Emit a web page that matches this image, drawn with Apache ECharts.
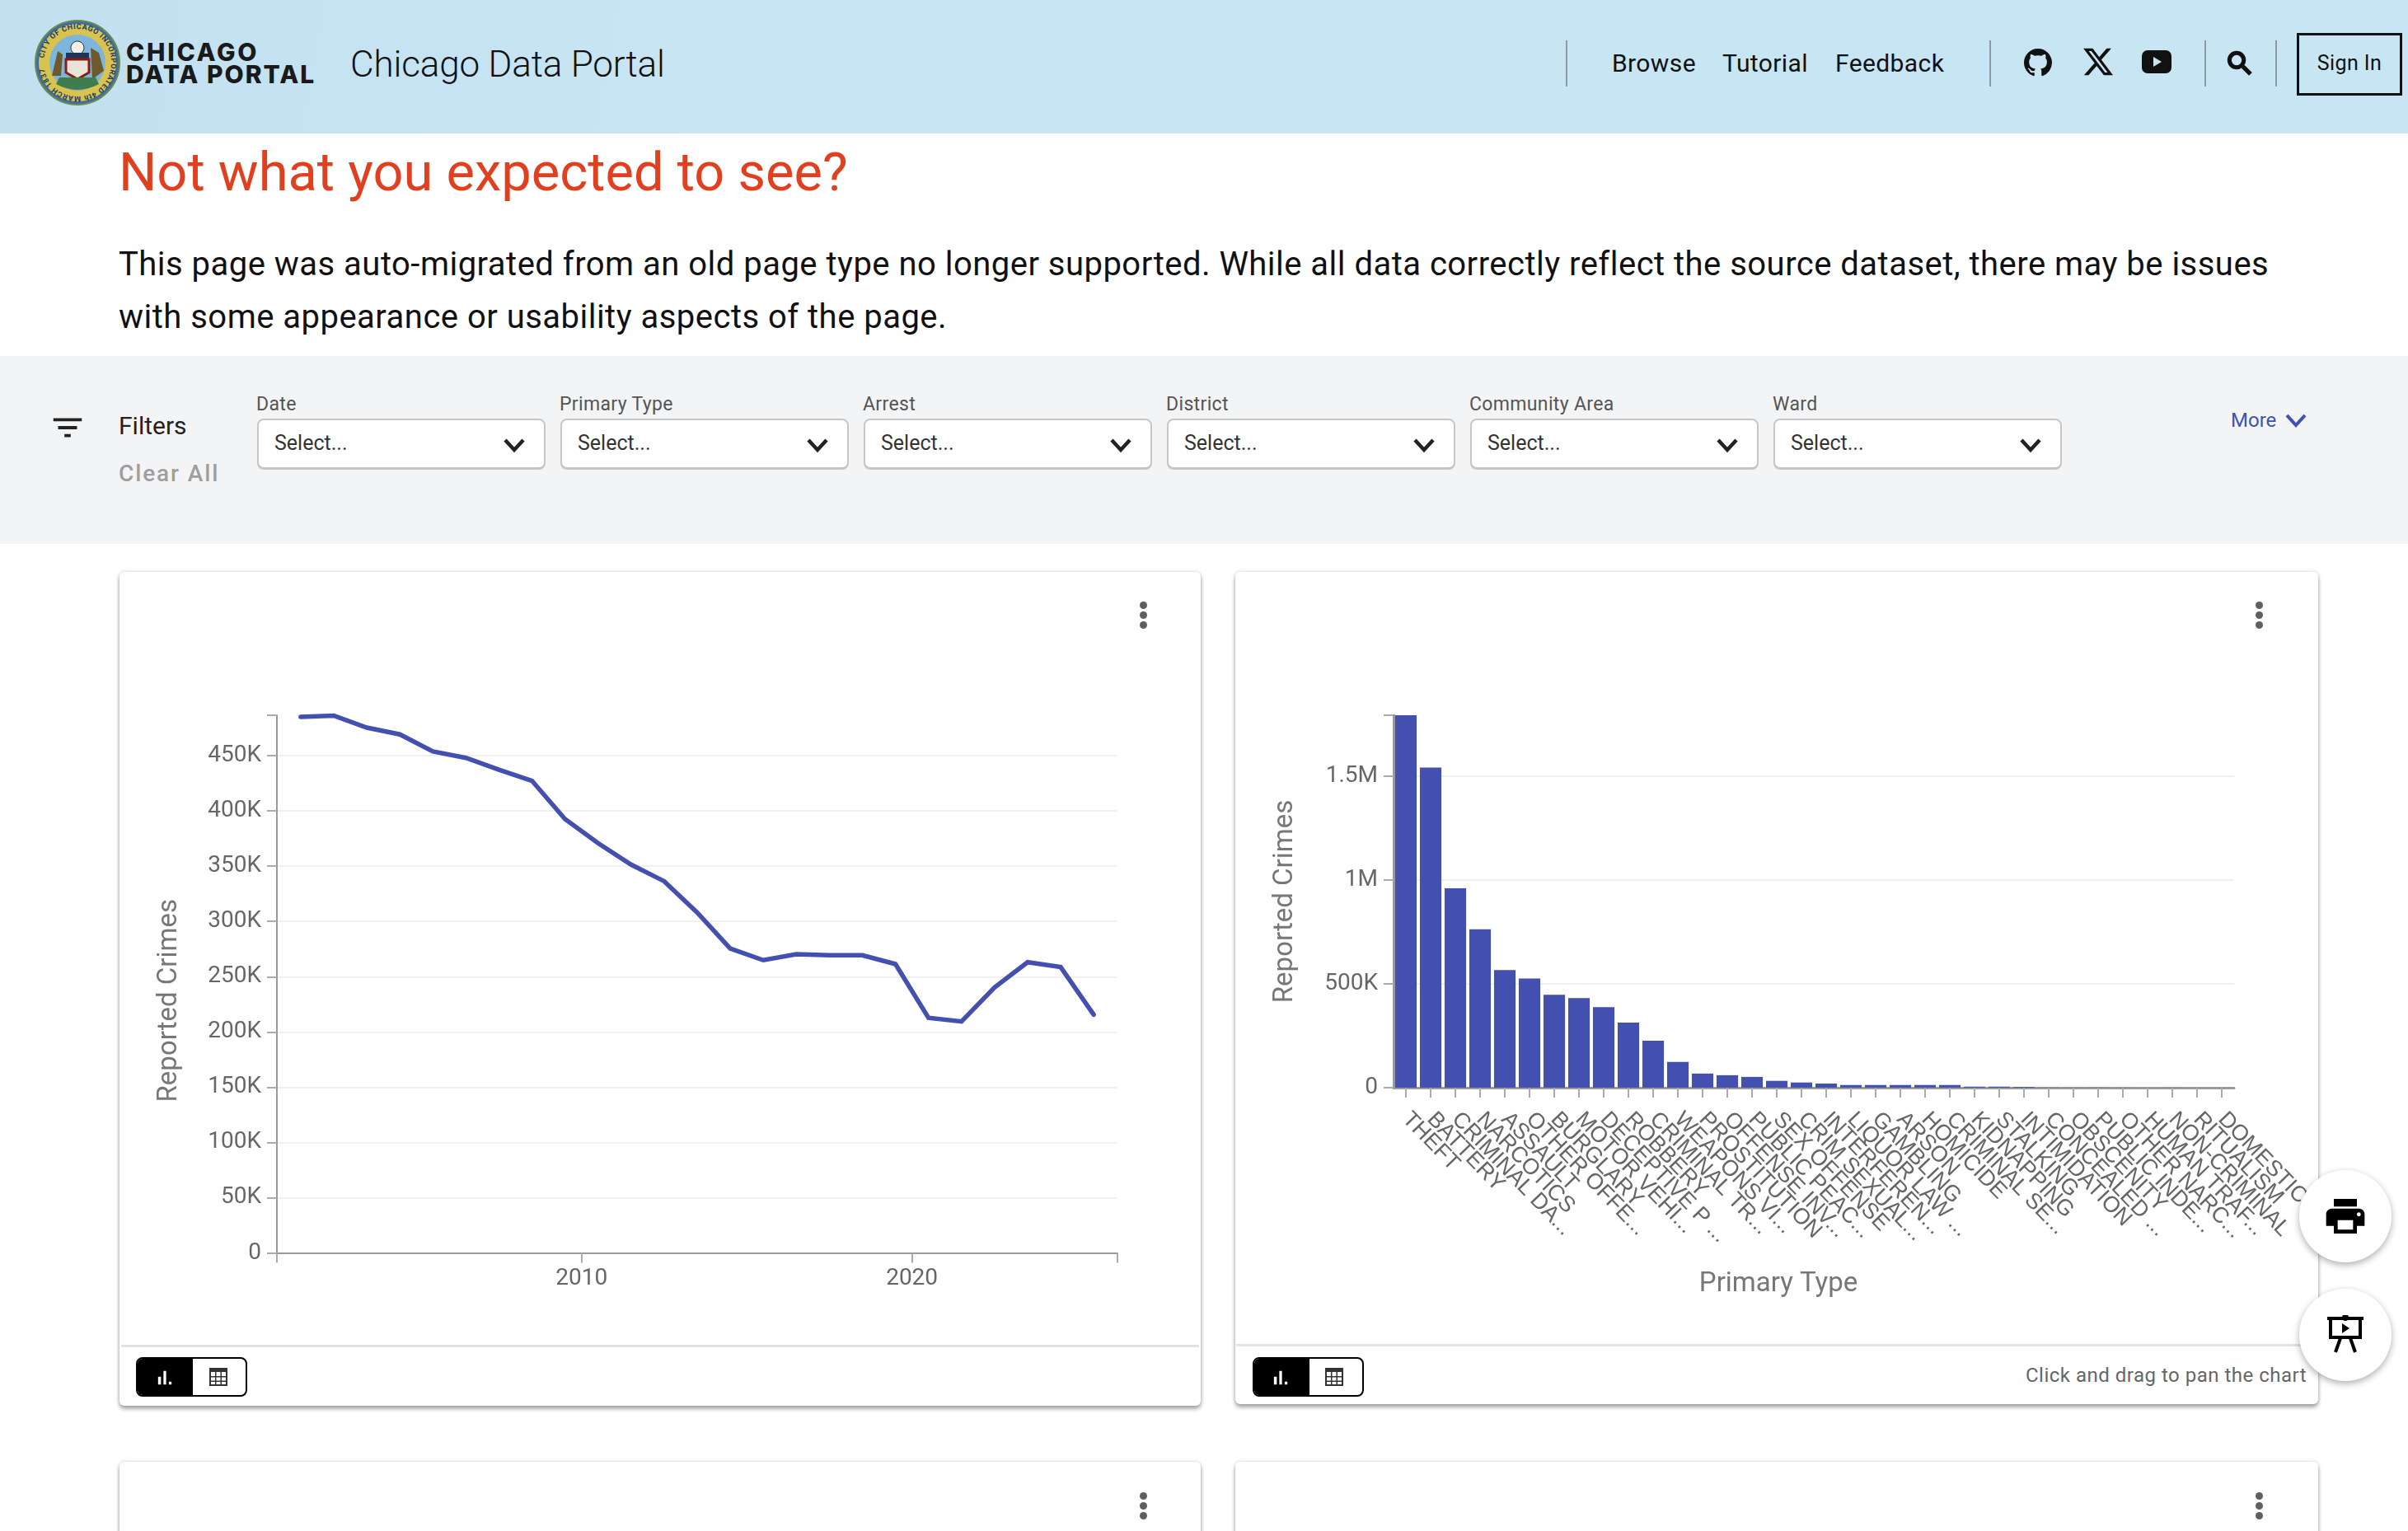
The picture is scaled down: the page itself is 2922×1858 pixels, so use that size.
<!DOCTYPE html>
<html>
<head>
<meta charset="utf-8">
<title>Chicago Data Portal</title>
<script src="https://cdn.jsdelivr.net/npm/echarts@6/dist/echarts.min.js"></script>
<style>
html,body{margin:0;padding:0;width:2922px;height:1858px;overflow:hidden;background:#fff;font-family:Roboto,sans-serif;color:#111}
.abs,.t,.sel,.lab,.card,.fab,.dots,.divider,svg.abs{position:absolute}
.t{white-space:nowrap;line-height:1}
#head{position:absolute;left:0;top:0;width:2922px;height:162px;background:linear-gradient(100deg,#c2e0ef 0,#c7e5f3 30%,#c7e5f3 100%)}
#bar{position:absolute;left:0;top:432px;width:2922px;height:228px;background:#f3f4f6}
.divider{width:2px;top:49px;height:56px;background:#8f9aa0}
.sel{width:346px;height:57px;top:508px;background:#fff;border:2px solid #c6c6c6;border-bottom-width:3px;border-radius:8px}
.card{background:#fff;border-radius:6px;box-shadow:0 4px 5px rgba(0,0,0,.32),0 0 5px rgba(0,0,0,.18)}
.fab{width:112px;height:112px;border-radius:50%;background:#fff;box-shadow:0 3px 8px rgba(0,0,0,.32);left:2790px}
.dots i{display:block;width:9px;height:9px;border-radius:50%;background:#5f5f5f;margin-bottom:3px}
.rule{position:absolute;height:3px;background:#e2e2e2}
.toggle{position:absolute;width:131px;height:44px;top:1647px;border:2px solid #000;border-radius:8px;overflow:hidden;background:#fff}
.toggle b{position:absolute;left:0;top:0;width:67px;height:44px;background:#000}
</style>
</head>
<body>
<div id="head"></div>
<svg class="abs" style="left:40px;top:22px" width="108" height="108" viewBox="0 0 108 108">
  <defs><path id="ring" d="M54 54m-41 0a41 41 0 1 1 82 0a41 41 0 1 1 -82 0"/></defs>
  <circle cx="54" cy="54" r="51" fill="#3f6f9f" stroke="#6d8b4c" stroke-width="2"/>
  <circle cx="54" cy="54" r="47" fill="#d9c24d"/>
  <circle cx="54" cy="54" r="34" fill="#7db6dc"/>
  <text font-family="Roboto" font-size="9" font-weight="700" fill="#20406a"><textPath href="#ring" startOffset="2%" textLength="245">CITY OF CHICAGO INCORPORATED 4th MARCH 1837</textPath></text>
  <path d="M54 28a8 8 0 1 1 -.1 0z" fill="#f3efe6" stroke="#333"/>
  <rect x="40" y="42" width="28" height="8" fill="#1d3557"/>
  <path d="M40 50h28v16l-14 8-14-8z" fill="#e9e4d8" stroke="#8c1c13" stroke-width="3"/>
  <path d="M23 70l7-30 6 4-2 26zM70 36l10 6 6 22-14 10z" fill="#6d5a2c"/>
  <path d="M28 80q26 14 52 0l-4-8H32z" fill="#3f7d4c"/>
</svg>
<div class="t" style="left:153px;top:48px;font:800 30px/30px Inter,sans-serif;letter-spacing:2.7px;color:#1a1a1a">CHICAGO</div>
<div class="t" style="left:153px;top:75px;font:800 30px/30px Inter,sans-serif;letter-spacing:2px;color:#1a1a1a">DATA PORTAL</div>
<div class="t" style="left:425px;top:56px;font-size:44px;font-weight:300;letter-spacing:-.15px">Chicago Data Portal</div>
<div class="divider" style="left:1900px"></div>
<div class="t" style="left:1956px;top:62px;font-size:30px;letter-spacing:.4px">Browse</div>
<div class="t" style="left:2090px;top:62px;font-size:30px;letter-spacing:.4px">Tutorial</div>
<div class="t" style="left:2227px;top:62px;font-size:30px;letter-spacing:.4px">Feedback</div>
<div class="divider" style="left:2414px"></div>
<svg class="abs" style="left:2456px;top:59px" width="34" height="34" viewBox="0 0 16 16"><path fill="#111" d="M8 0C3.58 0 0 3.58 0 8c0 3.54 2.29 6.53 5.47 7.59.4.07.55-.17.55-.38 0-.19-.01-.82-.01-1.49-2.01.37-2.53-.49-2.69-.94-.09-.23-.48-.94-.82-1.13-.28-.15-.68-.52-.01-.53.63-.01 1.08.58 1.23.82.72 1.21 1.87.87 2.33.66.07-.52.28-.87.51-1.07-1.78-.2-3.64-.89-3.64-3.95 0-.87.31-1.59.82-2.15-.08-.2-.36-1.02.08-2.12 0 0 .67-.21 2.2.82.64-.18 1.32-.27 2-.27.68 0 1.36.09 2 .27 1.53-1.04 2.2-.82 2.2-.82.44 1.1.16 1.92.08 2.12.51.56.82 1.27.82 2.15 0 3.07-1.87 3.75-3.65 3.95.29.25.54.73.54 1.48 0 1.07-.01 1.93-.01 2.2 0 .21.15.46.55.38A8.013 8.013 0 0016 8c0-4.42-3.58-8-8-8z"/></svg>
<svg class="abs" style="left:2526px;top:55px" width="40" height="40" viewBox="0 0 24 24"><path fill="#111" d="M18.244 2.25h3.308l-7.227 8.26 8.502 11.24H16.17l-5.214-6.817L4.99 21.75H1.68l7.73-8.835L1.254 2.25H8.08l4.713 6.231zm-1.161 17.52h1.833L7.084 4.126H5.117z"/></svg>
<svg class="abs" style="left:2599px;top:61px" width="36" height="28" viewBox="0 0 36 28"><rect width="36" height="28" rx="7" fill="#111"/><path d="M14 8l10 6-10 6z" fill="#c7e5f3"/></svg>
<div class="divider" style="left:2675px"></div>
<svg class="abs" style="left:2699px;top:58px" width="38" height="38" viewBox="0 0 24 24"><path fill="#111" stroke="#111" stroke-width="1.2" d="M15.5 14h-.79l-.28-.27C15.41 12.59 16 11.11 16 9.5 16 5.91 13.09 3 9.5 3S3 5.91 3 9.5 5.91 16 9.5 16c1.61 0 3.09-.59 4.23-1.57l.27.28v.79l5 4.99L20.49 19l-4.99-5zm-6 0C7.01 14 5 11.99 5 9.5S7.01 5 9.5 5 14 7.01 14 9.5 11.99 14 9.5 14z"/></svg>
<div class="divider" style="left:2761px"></div>
<div class="abs" style="left:2787px;top:40px;width:122px;height:70px;border:3px solid #111"></div>
<div class="t" style="left:2787px;top:64px;width:128px;text-align:center;font-size:25px;letter-spacing:.4px">Sign In</div>

<div class="t" style="left:144px;top:177px;font-size:65px;color:#e0401f">Not what you expected to see?</div>
<div class="t" style="left:144px;top:301px;font-size:40px;letter-spacing:.48px">This page was auto-migrated from an old page type no longer supported. While all data correctly reflect the source dataset, there may be issues</div>
<div class="t" style="left:144px;top:365px;font-size:40px;letter-spacing:.48px">with some appearance or usability aspects of the page.</div>

<div id="bar"></div>
<svg class="abs" style="left:59px;top:496px" width="46" height="46" viewBox="0 0 24 24"><path fill="#222" d="M10 18h4v-2h-4v2zM3 6v2h18V6H3zm3 7h12v-2H6v2z"/></svg>
<div class="t" style="left:144px;top:502px;font-size:30px;color:#222">Filters</div>
<div class="t" style="left:144px;top:561px;font-size:28px;font-weight:500;letter-spacing:1.9px;color:#9e9e9e">Clear All</div>
<div id="filters"></div>
<div class="t" style="left:2707px;top:498px;font-size:24px;color:#3f51b5">More</div>
<svg class="abs" style="left:2772px;top:500px" width="28" height="20" viewBox="0 0 28 20"><path d="M3 4l11 12L25 4" fill="none" stroke="#3f51b5" stroke-width="4"/></svg>

<div class="card" style="left:145px;top:694px;width:1312px;height:1012px"></div>
<div class="card" style="left:1499px;top:694px;width:1314px;height:1010px"></div>
<div class="card" style="left:145px;top:1774px;width:1312px;height:200px"></div>
<div class="card" style="left:1499px;top:1774px;width:1314px;height:200px"></div>
<div class="dots abs" style="left:1383px;top:730px"><i></i><i></i><i></i></div>
<div class="dots abs" style="left:2737px;top:730px"><i></i><i></i><i></i></div>
<div class="dots abs" style="left:1383px;top:1811px"><i></i><i></i><i></i></div>
<div class="dots abs" style="left:2737px;top:1811px"><i></i><i></i><i></i></div>

<div id="lineChart" class="abs" style="left:145px;top:694px;width:1312px;height:938px"></div>
<div id="barChart" class="abs" style="left:1498px;top:694px;width:1315px;height:938px"></div>

<div class="rule" style="left:147px;top:1632px;width:1308px"></div>
<div class="rule" style="left:1500px;top:1631px;width:1311px"></div>
<div class="toggle" style="left:165px"><b></b></div>
<div class="toggle" style="left:1520px"><b></b></div>
<svg class="abs" style="left:186px;top:1658px" width="28" height="28" viewBox="0 0 24 24"><path fill="#fff" d="M5 11h3v8H5zM10.6 5h2.8v14h-2.8zm5.6 11H19v3h-2.8z"/></svg>
<svg class="abs" style="left:1540px;top:1658px" width="28" height="28" viewBox="0 0 24 24"><path fill="#fff" d="M5 11h3v8H5zM10.6 5h2.8v14h-2.8zm5.6 11H19v3h-2.8z"/></svg>
<svg class="abs" style="left:253px;top:1659px" width="24" height="24" viewBox="0 0 24 24"><path fill="#333" d="M1 1h22v22H1z"/><path fill="#fff" d="M3 6h5v5H3zM9.5 6h5v5h-5zM16 6h5v5h-5zM3 12.5h5v4H3zM9.5 12.5h5v4h-5zM16 12.5h5v4h-5zM3 18h5v3H3zM9.5 18h5v3h-5zM16 18h5v3h-5z"/></svg>
<svg class="abs" style="left:1607px;top:1659px" width="24" height="24" viewBox="0 0 24 24"><path fill="#333" d="M1 1h22v22H1z"/><path fill="#fff" d="M3 6h5v5H3zM9.5 6h5v5h-5zM16 6h5v5h-5zM3 12.5h5v4H3zM9.5 12.5h5v4h-5zM16 12.5h5v4h-5zM3 18h5v3H3zM9.5 18h5v3h-5zM16 18h5v3h-5z"/></svg>
<div class="t" style="left:2458px;top:1657px;font-size:24px;letter-spacing:.5px;color:#666">Click and drag to pan the chart</div>

<div class="fab" style="top:1420px"></div>
<div class="fab" style="top:1564px"></div>
<svg class="abs" style="left:2818px;top:1448px" width="56" height="56" viewBox="0 0 24 24"><path fill="#000" d="M19 8H5c-1.66 0-3 1.34-3 3v6h4v4h12v-4h4v-6c0-1.66-1.34-3-3-3zm-3 11H8v-5h8v5zm3-7c-.55 0-1-.45-1-1s.45-1 1-1 1 .45 1 1-.45 1-1 1zm-1-9H6v4h12V3z"/></svg>
<svg class="abs" style="left:2824px;top:1596px" width="44" height="46" viewBox="0 0 44 46"><path d="M0 4h44M4 5v22h36V5M16 28l-6 17M28 28l6 17" fill="none" stroke="#000" stroke-width="4"/><circle cx="22" cy="3" r="4" fill="#000"/><path d="M18 10l9 6-9 6z" fill="#000"/></svg>

<script>
var filterNames = ["Date", "Primary Type", "Arrest", "District", "Community Area", "Ward"];

var years = [2001, 2002, 2003, 2004, 2005, 2006, 2007, 2008, 2009, 2010, 2011, 2012, 2013,
    2014, 2015, 2016, 2017, 2018, 2019, 2020, 2021, 2022, 2023, 2024, 2025];
var yearlyCrimes = [485200, 486300, 475400, 469300, 453900, 448000, 437300, 427300, 392600,
    370800, 351400, 336400, 308000, 275500, 264900, 270300, 269400, 269400, 261400, 212800,
    209400, 240300, 263100, 258700, 215600];
var yearTicks = [2000.78, 2010, 2020, 2026.22];
var yearLabels = [2010, 2020];
var lineValueLabels = [0, 50000, 100000, 150000, 200000, 250000, 300000, 350000, 400000, 450000];
var lineValueTicks = [0, 50000, 100000, 150000, 200000, 250000, 300000, 350000, 400000, 450000, 486600];

var primaryTypes = ["THEFT", "BATTERY", "CRIMINAL DA...", "NARCOTICS", "ASSAULT", "OTHER OFFE...",
    "BURGLARY", "MOTOR VEHI...", "DECEPTIVE P ...", "ROBBERY", "CRIMINAL TR...", "WEAPONS VI...",
    "PROSTITUTION", "OFFENSE INV...", "PUBLIC PEAC...", "SEX OFFENSE", "CRIM SEXUAL...",
    "INTERFEREN...", "LIQUOR LAW ...", "GAMBLING", "ARSON", "HOMICIDE", "CRIMINAL SE...",
    "KIDNAPPING", "STALKING", "INTIMIDATION", "CONCEALED ...", "OBSCENITY", "PUBLIC INDE...",
    "OTHER NARC...", "HUMAN TRAF...", "NON-CRIMINAL", "RITUALISM", "DOMESTIC V..."];
var typeCrimes = [1793000, 1541000, 960000, 763000, 566000, 526000, 447000, 431000, 388000,
    313000, 226000, 124000, 68000, 60000, 52000, 33000, 25000, 20000, 13000, 13000, 13000,
    13000, 13000, 5000, 5000, 4000, 900, 700, 800, 200, 100, 200, 30, 10];
var barValueLabels = [0, 500000, 1000000, 1500000];
var barValueTicks = [0, 500000, 1000000, 1500000, 1793000];

var html = "";
for (var i = 0; i < filterNames.length; i++) {
    var x = 312 + i * 368;
    html += '<div class="t lab" style="left:' + (x - 1) + 'px;top:479px;font-size:23px;letter-spacing:.35px;color:#555">' + filterNames[i] + '</div>';
    html += '<div class="sel" style="left:' + x + 'px"></div>';
    html += '<div class="t" style="left:' + (x + 21) + 'px;top:525px;font-size:25px;color:#333">Select...</div>';
    html += '<svg class="abs" style="left:' + (x + 298) + 'px;top:530px" width="28" height="20" viewBox="0 0 28 20"><path d="M3 4l11 12L25 4" fill="none" stroke="#222" stroke-width="4.5"/></svg>';
}
document.getElementById("filters").innerHTML = html;

function kFormat(v) {
    if (v >= 1000000) return (v / 1000000) + "M";
    if (v >= 1000) return (v / 1000) + "K";
    return "" + v;
}

var axisGrey = "#9a9a9a";
var labelGrey = "#666";
var titleGrey = "#777";
var blue = "#4350af";

var lineData = [];
for (var j = 0; j < years.length; j++) {
    lineData.push([years[j] + 0.5, yearlyCrimes[j]]);
}

var lineChart = echarts.init(document.getElementById("lineChart"));
lineChart.setOption({
    animation: false,
    textStyle: { fontFamily: "Roboto" },
    // v6 would otherwise shrink the grid to keep labels inside
    grid: { left: 191, right: 101, top: 174, bottom: 111.5, outerBoundsMode: "none" },
    xAxis: {
        type: "value",
        min: yearTicks[0],
        max: yearTicks[3],
        axisLine: { show: true, onZero: false, lineStyle: { color: axisGrey, width: 2 } },
        axisTick: { show: true, length: 12, lineStyle: { color: "#aaa", width: 2 }, customValues: yearTicks },
        axisLabel: { color: labelGrey, fontSize: 28, margin: 17, customValues: yearLabels, formatter: function (v) { return String(v); } },
        splitLine: { show: false }
    },
    yAxis: {
        type: "value",
        min: 0,
        max: 486600,
        interval: 50000,
        name: "Reported Crimes",
        nameLocation: "middle",
        nameGap: 114,
        nameTextStyle: { color: titleGrey, fontSize: 33, padding: [0, 40, 0, 0] },
        axisLine: { show: true, lineStyle: { color: axisGrey, width: 2 } },
        axisTick: { show: true, length: 12, lineStyle: { color: "#aaa", width: 2 }, customValues: lineValueTicks },
        axisLabel: { color: labelGrey, fontSize: 28, margin: 19, padding: [10, 0, 0, 0], customValues: lineValueLabels, formatter: kFormat },
        splitLine: { show: true, showMaxLine: false, lineStyle: { color: "#f0f0f0", width: 2 } }
    },
    series: [{
        type: "line",
        data: lineData,
        showSymbol: false,
        lineStyle: { color: blue, width: 5.5, cap: "round", join: "miter" }
    }]
});

var barChart = echarts.init(document.getElementById("barChart"));
barChart.setOption({
    animation: false,
    textStyle: { fontFamily: "Roboto" },
    grid: { left: 193, right: 102, top: 174, bottom: 312, outerBoundsMode: "none" },
    xAxis: {
        type: "category",
        data: primaryTypes,
        name: "Primary Type",
        nameLocation: "middle",
        nameGap: 222,
        nameTextStyle: { color: titleGrey, fontSize: 33, padding: [0, 86, 0, 0] },
        axisLine: { show: true, lineStyle: { color: axisGrey, width: 3 } },
        axisTick: { show: true, alignWithLabel: true, length: 12, lineStyle: { color: "#aaa", width: 2 } },
        axisLabel: { color: labelGrey, fontSize: 27, fontFamily: "Liberation Sans", rotate: -46, interval: 0, margin: 34 }
    },
    yAxis: {
        type: "value",
        min: 0,
        max: 1793000,
        interval: 500000,
        name: "Reported Crimes",
        nameLocation: "middle",
        nameGap: 115,
        nameTextStyle: { color: titleGrey, fontSize: 33 },
        axisLine: { show: true, lineStyle: { color: axisGrey, width: 3 } },
        axisTick: { show: true, length: 12, lineStyle: { color: "#aaa", width: 2 }, customValues: barValueTicks },
        axisLabel: { color: labelGrey, fontSize: 28, margin: 19, padding: [10, 0, 0, 0], customValues: barValueLabels, formatter: kFormat },
        splitLine: { show: true, showMaxLine: false, lineStyle: { color: "#f0f0f0", width: 2 } }
    },
    series: [{
        type: "bar",
        data: typeCrimes,
        barCategoryGap: "13%",
        itemStyle: { color: "#4350af" }
    }]
});
</script>
</body>
</html>
